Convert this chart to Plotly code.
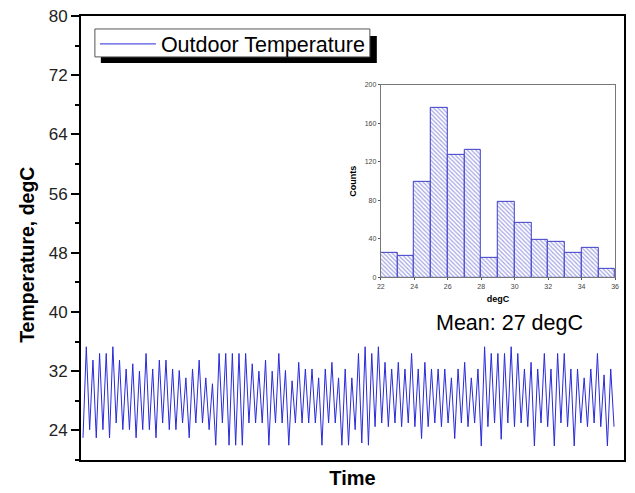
import plotly.graph_objects as go

# ---- main series: daily peaks and the troughs that precede them (degC) ----
peaks = [35.3, 33.5, 34.4, 34.4, 35.3, 33.5, 32.3, 33.0, 32.0, 34.4,
         32.3, 33.5, 33.5, 32.3, 32.1, 31.1, 32.3, 33.5, 31.1, 30.3,
         34.4, 34.4, 34.4, 34.4, 34.4, 33.0, 32.0, 33.5, 32.0, 34.4,
         32.1, 30.7, 33.2, 32.3, 32.3, 31.1, 32.3, 33.2, 31.1, 32.3,
         31.1, 34.4, 35.3, 34.4, 35.3, 33.2, 32.3, 33.2, 32.3, 34.4,
         32.3, 33.2, 32.3, 32.3, 32.3, 31.1, 32.3, 33.2, 31.1, 32.3,
         35.3, 34.4, 34.4, 34.4, 35.3, 34.4, 32.3, 33.2, 32.3, 34.4,
         32.3, 34.4, 34.4, 32.3, 32.3, 31.1, 32.3, 34.4, 31.5, 32.3]
lows = [23.0, 24.1, 23.0, 24.1, 23.0, 25.0, 24.1, 24.1, 23.0, 24.1,
        24.1, 23.0, 25.0, 24.1, 24.1, 25.0, 23.0, 25.0, 25.0, 24.1,
        22.0, 25.0, 22.0, 22.0, 22.0, 25.0, 25.0, 25.0, 22.0, 25.0,
        25.0, 22.0, 25.0, 25.0, 25.0, 25.0, 22.0, 25.0, 25.0, 22.0,
        22.0, 24.1, 22.3, 22.0, 24.5, 25.0, 24.5, 25.0, 24.5, 25.0,
        24.5, 22.9, 24.5, 25.0, 24.5, 25.0, 22.9, 25.0, 24.5, 25.0,
        21.9, 24.5, 25.0, 22.8, 25.0, 24.5, 25.0, 24.5, 21.9, 25.0,
        24.5, 21.9, 25.0, 24.5, 21.9, 25.0, 24.5, 25.0, 24.5, 21.9,
        24.5]

temps = []
for lo, pk in zip(lows, peaks):
    temps.extend([lo, pk])
temps.append(lows[-1])
time_idx = list(range(len(temps)))

# ---- inset histogram ----
bin_starts = [22, 23, 24, 25, 26, 27, 28, 29, 30, 31, 32, 33, 34, 35]
counts = [26, 22, 99, 176, 127, 133, 20, 78, 57, 39, 37, 26, 31, 9]

y_ticks = [24, 32, 40, 48, 56, 64, 72, 80]
hist_x_ticks = [22, 24, 26, 28, 30, 32, 34, 36]
hist_y_ticks = [0, 40, 80, 120, 160, 200]

FONT = "Liberation Sans, Arial, sans-serif"
W, H = 635, 493
L, R, T, B = 81, 7, 15, 33
PW, PH = W - L - R, H - T - B


def px(xpix):
    return (xpix - L) / PW


def py(ypix):
    return (H - B - ypix) / PH


fig = go.Figure()
fig.add_trace(go.Scatter(
    x=time_idx, y=temps, mode="lines", name="Outdoor Temperature",
    line=dict(color="#2a2ad8", width=1), xaxis="x", yaxis="y"))

fig.add_trace(go.Bar(
    x=bin_starts, y=counts, width=1, offset=0, showlegend=False,
    marker=dict(color="white", line=dict(color="#3c3cc8", width=1),
                pattern=dict(shape="\\", fgcolor="#4a4acb", bgcolor="white",
                             size=3, solidity=0.4)),
    xaxis="x2", yaxis="y2"))

# legend frame with drop shadow (legend text/line drawn by plotly on top)
fig.add_shape(type="rect", xref="paper", yref="paper",
              x0=px(101), x1=px(379), y0=py(62), y1=py(35),
              fillcolor="black", line=dict(width=0), layer="above")
fig.add_shape(type="rect", xref="paper", yref="paper",
              x0=px(95), x1=px(372), y0=py(56), y1=py(28),
              fillcolor="white", line=dict(color="#555555", width=1),
              layer="above")

fig.add_annotation(text="Mean: 27 degC", xref="paper", yref="paper",
                   x=px(513), y=py(323), xanchor="center", yanchor="middle",
                   showarrow=False,
                   font=dict(family=FONT, size=21.5, color="black"))

fig.add_annotation(text="Temperature, degC", xref="paper", yref="paper",
                   x=px(27), y=py(254), xanchor="center", yanchor="middle",
                   textangle=-90, showarrow=False,
                   font=dict(family=FONT, size=19.5, color="black",
                             weight="bold"))

fig.update_layout(
    width=W, height=H,
    margin=dict(l=L, r=R, t=T, b=B, pad=0),
    paper_bgcolor="white", plot_bgcolor="white",
    font=dict(family=FONT, color="black"),
    bargap=0,
    showlegend=True,
    legend=dict(x=px(95), y=py(43), xanchor="left", yanchor="middle",
                bgcolor="rgba(0,0,0,0)", borderwidth=0,
                font=dict(family=FONT, size=21.5, color="black"),
                itemwidth=56),
    xaxis=dict(domain=[0, 1], range=[-0.6, 163], showgrid=False,
               zeroline=False, showticklabels=False, ticks="",
               showline=True, linecolor="black", linewidth=2, mirror=True,
               title=dict(text="Time", standoff=10,
                          font=dict(family=FONT, size=20, weight="bold"))),
    yaxis=dict(domain=[0, 1], range=[20, 80], showgrid=False,
               zeroline=False, tickmode="array", tickvals=y_ticks,
               ticks="outside", ticklen=8, tickwidth=1.5, tickcolor="black",
               tickfont=dict(family=FONT, size=17, color="#222"),
               minor=dict(ticks="outside", ticklen=4, tickwidth=1.5,
                          dtick=4, tick0=20, tickcolor="black"),
               showline=True, linecolor="black", linewidth=2, mirror=True),
    xaxis2=dict(domain=[px(383), px(619)], range=[22, 36], anchor="y2",
                showgrid=False, zeroline=False, tickmode="array",
                tickvals=hist_x_ticks, ticks="outside", ticklen=2,
                tickcolor="#555", tickfont=dict(family=FONT, size=7, color="#444"),
                showline=True, linecolor="#777", linewidth=1, mirror=True,
                title=dict(text="degC", standoff=6,
                           font=dict(family=FONT, size=9, weight="bold"))),
    yaxis2=dict(domain=[py(277), py(84)], range=[0, 200], anchor="x2",
                showgrid=False, zeroline=False, tickmode="array",
                tickvals=hist_y_ticks, ticks="outside", ticklen=2,
                tickcolor="#555", tickfont=dict(family=FONT, size=7, color="#444"),
                showline=True, linecolor="#777", linewidth=1, mirror=True,
                title=dict(text="Counts", standoff=6,
                           font=dict(family=FONT, size=9, weight="bold"))),
)

fig.write_html("out.html")
